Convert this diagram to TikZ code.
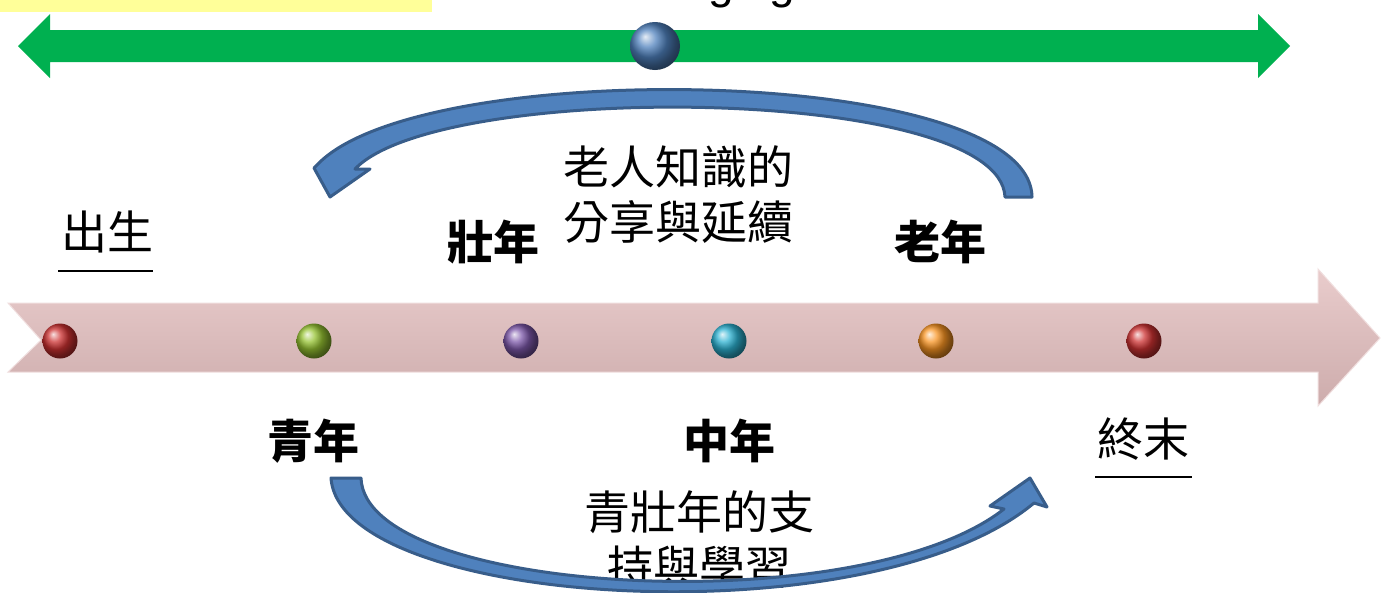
\documentclass[tikz,border=0pt]{standalone}
\usepackage{fontspec}
\newfontfamily\cjk{Noto Sans CJK TC}
\newfontfamily\latin{Liberation Sans}
\definecolor{arrowfill}{RGB}{79,129,189}
\definecolor{arrowline}{RGB}{56,93,138}
\definecolor{tlgreen}{RGB}{0,176,80}
\definecolor{notey}{RGB}{255,255,153}
\definecolor{pinktop}{RGB}{233,204,204}
\definecolor{pinkbot}{RGB}{205,172,172}
\definecolor{pinkedge}{RGB}{240,222,222}
\definecolor{bred}{RGB}{205,50,50}
\definecolor{bgreen}{RGB}{150,195,50}
\definecolor{bpurple}{RGB}{125,88,170}
\definecolor{bcyan}{RGB}{45,178,210}
\definecolor{borange}{RGB}{248,148,35}
\definecolor{bblue}{RGB}{79,129,189}
\tikzset{
  lbl/.style={font=\cjk\bfseries\fontsize{46}{55}\selectfont, inner sep=0pt},
  txt/.style={font=\cjk\fontsize{46}{55}\selectfont, inner sep=0pt, align=center},
  topg/.style={font=\latin\fontsize{46}{55}\selectfont, inner sep=0pt, anchor=base},
  bead/.style={circle, minimum size=35pt, inner sep=0pt},
  curved/.style={fill=arrowfill, draw=arrowline, line width=3pt, line join=round},
  uline/.style={line width=2.5pt},
}
\begin{document}
\begin{tikzpicture}[x=1pt,y=-1pt]
\useasboundingbox (0,0) rectangle (1383,592);
\clip (0,0) rectangle (1383,592);
\fill[white] (0,0) rectangle (1383,592);
% yellow note strip
\fill[notey] (0,0) rectangle (432,12);
% partial title (cut off at the top edge, as in the reference)
\node[topg] (g1) at (721,-2) {g};
\node[topg] (g2) at (782,-2) {g};
% green double arrow
\fill[tlgreen] (18,46) -- (50,14) -- (50,30) -- (1258,30) -- (1258,14) -- (1290,46)
  -- (1258,78) -- (1258,62) -- (50,62) -- (50,78) -- cycle;
\shade[ball color=bblue] (655,46) ellipse [x radius=25, y radius=24];
% top curved arrow
\path[curved] (1032,197) .. controls (1030,65) and (420,55) .. (317,165)
  -- (314,168) -- (330,197) -- (370,169) -- (355,169)
  .. controls (440,80) and (1000,85) .. (1005,197) -- cycle;
% timeline arrow
\shade[top color=pinktop, bottom color=pinkbot, draw=pinkedge, line width=1pt]
  (8,303) -- (1318,303) -- (1318,269) -- (1380,338) -- (1318,406) -- (1318,372)
  -- (8,372) -- (41,340) -- cycle;
\node[bead, ball color=bred] (b1) at (60,341) {};
\node[bead, ball color=bgreen] (b2) at (314,341) {};
\node[bead, ball color=bpurple] (b3) at (521,341) {};
\node[bead, ball color=bcyan] (b4) at (729,341) {};
\node[bead, ball color=borange] (b5) at (936,341) {};
\node[bead, ball color=bred] (b6) at (1144,341) {};
% labels
\node[txt] (birth) at (107,232) {出生};
\draw[uline] (58,271) -- (153,271);
\node[txt] (end) at (1143,439) {終末};
\draw[uline] (1095,477) -- (1192,477);
\node[lbl] (zhuang) at (493,242) {壯年};
\node[lbl] (lao) at (940,242) {老年};
\node[lbl] (qing) at (313,441) {青年};
\node[lbl] (zhong) at (729,441) {中年};
\node[txt] (share) at (678,195) {老人知識的\\分享與延續};
\node[txt] (support) at (699,539) {青壯年的支\\持與學習};
% bottom curved arrow (over the text)
\path[curved] (331,478) .. controls (340,608) and (870,640) .. (1034,503)
  -- (1047,507) -- (1030,478) -- (990,506) -- (1004,509)
  .. controls (860,622) and (365,596) .. (361,478) -- cycle;
\end{tikzpicture}
\end{document}
